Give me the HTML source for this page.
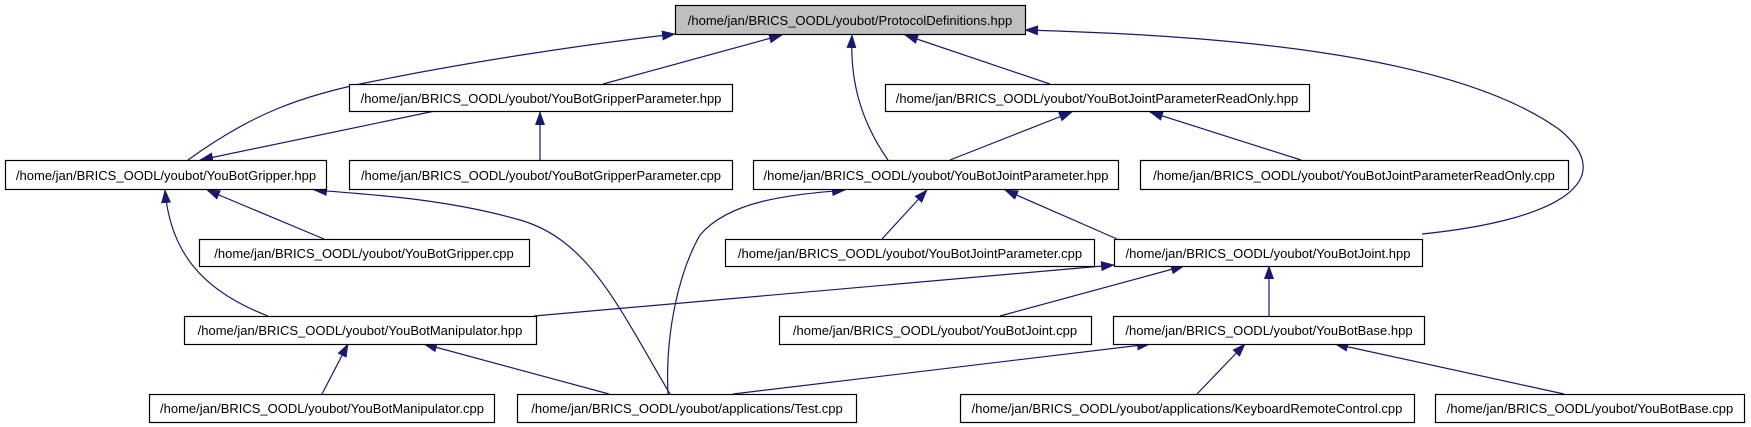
<!DOCTYPE html>
<html><head><style>
body{margin:0;background:#fff;width:1751px;height:427px;overflow:hidden}
svg{position:absolute;left:0;top:0}
</style></head><body>
<svg width="1751" height="427" viewBox="0 0 1751 427" xmlns="http://www.w3.org/2000/svg">
<defs><marker id="a" markerWidth="14" markerHeight="10" refX="13" refY="5" orient="auto" markerUnits="userSpaceOnUse"><path d="M0,0 L14,5 L0,10 z" fill="#191970"/></marker></defs>
<g fill="none" stroke="#191970" stroke-width="1.2" marker-end="url(#a)">
<path d="M603,84 L782,35"/>
<path d="M188,160 C250,115 300,95 380,80 C470,62 580,45 675,34"/>
<path d="M888,160 C860,120 850,80 852,35"/>
<path d="M1050,84 L905,35"/>
<path d="M1422,234 C1560,220 1620,180 1560,130 C1450,50 1200,35 1025,30"/>
<path d="M435,111 L200,160"/>
<path d="M540,160 L540,112"/>
<path d="M950,160 L1072,112"/>
<path d="M1301,160 L1150,112"/>
<path d="M324,239 L207,190"/>
<path d="M670,394 C620,310 590,240 520,220 C450,200 380,195 314,190"/>
<path d="M268,316 C200,290 170,250 165,190"/>
<path d="M882,239 L927,190"/>
<path d="M1117,239 L1005,190"/>
<path d="M668,394 C665,330 680,270 700,235 C730,200 790,195 845,190"/>
<path d="M534,316 L1114,265"/>
<path d="M1000,316 L1184,266"/>
<path d="M1269,316 L1269,266"/>
<path d="M322,394 L348,344"/>
<path d="M609,394 L424,344"/>
<path d="M733,394 L1150,344"/>
<path d="M1197,394 L1245,344"/>
<path d="M1564,394 L1335,344"/>
</g>
<g stroke="#000" stroke-width="1.2">
<rect x="675.5" y="5.5" width="350" height="29" fill="#bfbfbf"/>
<rect x="349.5" y="84.5" width="383" height="27" fill="#fff"/>
<rect x="885.5" y="84.5" width="424" height="27" fill="#fff"/>
<rect x="5.5" y="160.5" width="321" height="29" fill="#fff"/>
<rect x="349.5" y="160.5" width="383" height="29" fill="#fff"/>
<rect x="753.5" y="160.5" width="365" height="29" fill="#fff"/>
<rect x="1140.5" y="160.5" width="428" height="29" fill="#fff"/>
<rect x="199.5" y="239.5" width="330" height="27" fill="#fff"/>
<rect x="725.5" y="239.5" width="369" height="27" fill="#fff"/>
<rect x="1114.5" y="239.5" width="308" height="27" fill="#fff"/>
<rect x="184.5" y="316.5" width="352" height="28" fill="#fff"/>
<rect x="779.5" y="316.5" width="312" height="28" fill="#fff"/>
<rect x="1113.5" y="316.5" width="311" height="28" fill="#fff"/>
<rect x="149.5" y="394.5" width="345" height="28" fill="#fff"/>
<rect x="517.5" y="394.5" width="339" height="28" fill="#fff"/>
<rect x="960.5" y="394.5" width="454" height="28" fill="#fff"/>
<rect x="1435.5" y="394.5" width="309" height="28" fill="#fff"/>
</g>
<g fill="#000" font-family="Liberation Sans, sans-serif" font-size="13" text-anchor="middle">
<text x="850" y="25">/home/jan/BRICS_OODL/youbot/ProtocolDefinitions.hpp</text>
<text x="541" y="103">/home/jan/BRICS_OODL/youbot/YouBotGripperParameter.hpp</text>
<text x="1097" y="103">/home/jan/BRICS_OODL/youbot/YouBotJointParameterReadOnly.hpp</text>
<text x="166" y="180">/home/jan/BRICS_OODL/youbot/YouBotGripper.hpp</text>
<text x="541" y="180">/home/jan/BRICS_OODL/youbot/YouBotGripperParameter.cpp</text>
<text x="936" y="180">/home/jan/BRICS_OODL/youbot/YouBotJointParameter.hpp</text>
<text x="1354" y="180">/home/jan/BRICS_OODL/youbot/YouBotJointParameterReadOnly.cpp</text>
<text x="364" y="258">/home/jan/BRICS_OODL/youbot/YouBotGripper.cpp</text>
<text x="910" y="258">/home/jan/BRICS_OODL/youbot/YouBotJointParameter.cpp</text>
<text x="1268" y="258">/home/jan/BRICS_OODL/youbot/YouBotJoint.hpp</text>
<text x="360" y="335">/home/jan/BRICS_OODL/youbot/YouBotManipulator.hpp</text>
<text x="935" y="335">/home/jan/BRICS_OODL/youbot/YouBotJoint.cpp</text>
<text x="1269" y="335">/home/jan/BRICS_OODL/youbot/YouBotBase.hpp</text>
<text x="322" y="413">/home/jan/BRICS_OODL/youbot/YouBotManipulator.cpp</text>
<text x="687" y="413">/home/jan/BRICS_OODL/youbot/applications/Test.cpp</text>
<text x="1187" y="413">/home/jan/BRICS_OODL/youbot/applications/KeyboardRemoteControl.cpp</text>
<text x="1590" y="413">/home/jan/BRICS_OODL/youbot/YouBotBase.cpp</text>
</g>
</svg>
</body></html>
